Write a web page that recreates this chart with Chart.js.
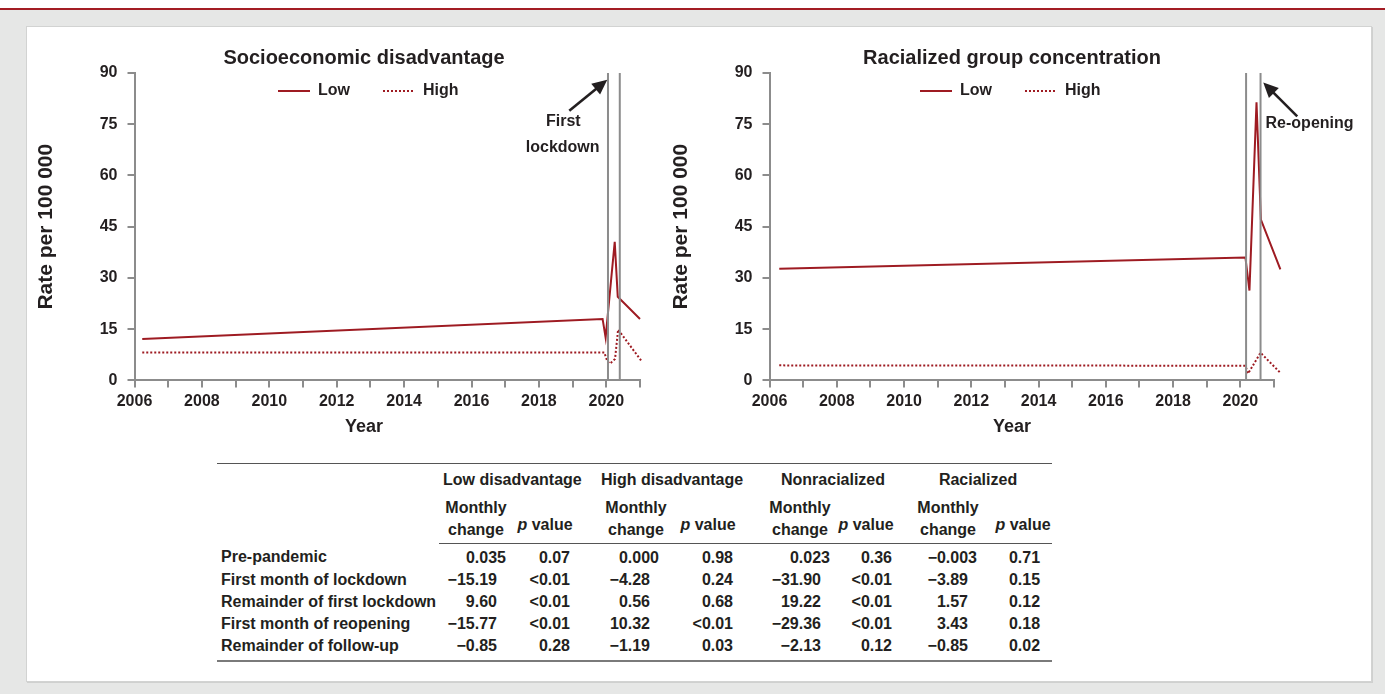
<!DOCTYPE html>
<html><head><meta charset="utf-8">
<script src="https://cdn.jsdelivr.net/npm/chart.js@4.4.1/dist/chart.umd.min.js"></script>
<style>
html,body{margin:0;padding:0;}
body{width:1385px;height:694px;overflow:hidden;background:#e6e7e6;position:relative;font-family:"Liberation Sans",Arial,sans-serif;color:#231f20;}
#topstrip{position:absolute;left:0;top:0;width:1385px;height:8px;background:#fff;}
#redline{position:absolute;left:0;top:8px;width:1385px;height:2px;background:#a31d24;}
#panel{position:absolute;left:26px;top:26px;width:1344px;height:654px;background:#fff;border:1px solid #d2d3d2;box-shadow:1px 1px 0 #cfd0cf;}
canvas{position:absolute;}
#tbl{position:absolute;left:217px;top:463px;width:835px;border-collapse:collapse;table-layout:fixed;font:bold 16px "Liberation Sans",Arial,sans-serif;color:#231f20;border-top:1.5px solid #555;}
#tbl td{padding:0;line-height:22px;white-space:nowrap;}
#tbl .grp td{height:31px;vertical-align:middle;text-align:center;}
#tbl .sub td{vertical-align:bottom;text-align:center;}
#tbl .sub td.mc{height:46px;padding-bottom:2px;}
#tbl .sub td.pv{height:41px;padding-bottom:7px;}
#tbl .sub td.ln{border-bottom:1.5px solid #555;}
#tbl .row td{height:22px;text-align:right;}
#tbl .row.first td{padding-top:2.5px;}
#tbl .row td.lab{text-align:left;padding-left:4px;}
#tbl .row.last td{padding-bottom:3px;border-bottom:2px solid #7a7a7a;}
.sh{position:relative;display:inline-block;}
</style></head>
<body>
<div id="topstrip"></div><div id="redline"></div>
<div id="panel"></div>
<canvas id="c1" width="688" height="402" style="left:20px;top:40px;width:688px;height:402px"></canvas>
<canvas id="c2" width="714" height="402" style="left:655px;top:40px;width:714px;height:402px"></canvas>
<table id="tbl"><colgroup></colgroup><tbody id="tb"></tbody></table>
<script>
// ---------- data ----------
const axisYears = [2006,2007,2008,2009,2010,2011,2012,2013,2014,2015,2016,2017,2018,2019,2020,2021];
const labelledYears = [2006,2008,2010,2012,2014,2016,2018,2020];
const rateTicks = [0,15,30,45,60,75,90];

const sesLowYears  = [2006.23, 2019.89, 2019.98, 2020.25, 2020.34, 2021.00];
const sesLowRates  = [12.1, 18.0, 12.5, 40.6, 24.5, 18.0];
const sesHighYears = [2006.23, 2019.94, 2020.03, 2020.11, 2020.26, 2020.35, 2021.05];
const sesHighRates = [8.2, 8.2, 5.6, 4.9, 6.3, 14.9, 5.6];
const sesEventYears = [2020.05, 2020.40];

const racLowYears  = [2006.29, 2020.15, 2020.27, 2020.48, 2020.61, 2021.19];
const racLowRates  = [32.7, 36.0, 26.3, 81.4, 47.1, 32.5];
const racHighYears = [2006.29, 2020.15, 2020.23, 2020.60, 2021.19];
const racHighRates = [4.4, 4.3, 2.0, 8.1, 2.2];
const racEventYears = [2020.17, 2020.60];

const seriesNames = ['Low','High'];
const chartTitles = ['Socioeconomic disadvantage','Racialized group concentration'];

const tableGroups = ['Low disadvantage','High disadvantage','Nonracialized','Racialized'];
const periodLabels = ['Pre-pandemic','First month of lockdown','Remainder of first lockdown','First month of reopening','Remainder of follow-up'];
const lowDisChange  = ['0.035','\u221215.19','9.60','\u221215.77','\u22120.85'];
const lowDisP       = ['0.07','<0.01','<0.01','<0.01','0.28'];
const highDisChange = ['0.000','\u22124.28','0.56','10.32','\u22121.19'];
const highDisP      = ['0.98','0.24','0.68','<0.01','0.03'];
const nonRacChange  = ['0.023','\u221231.90','19.22','\u221229.36','\u22122.13'];
const nonRacP       = ['0.36','<0.01','<0.01','<0.01','0.12'];
const racChange     = ['\u22120.003','\u22123.89','1.57','3.43','\u22120.85'];
const racP          = ['0.71','0.15','0.12','0.18','0.02'];

// ---------- style ----------
const FONT = '"Liberation Sans", Arial, sans-serif';
const RED = '#9e1b22', AX = '#8c8c8c', TXT = '#231f20';
Chart.defaults.font.family = FONT;
Chart.defaults.color = TXT;

const pts = (xs, ys) => xs.map((x, i) => ({x, y: ys[i]}));

// places the library legend as one row inside the plot area
const legendShift = {
  id: 'legendShift',
  afterLayout(chart, args, opts) {
    const lg = chart.legend; if (!lg) return;
    lg.update(chart.chartArea.width, 30, {left: 0, top: 0, right: 0, bottom: 0});
    const pad = lg.options.labels.padding;
    lg.left = opts.x - pad; lg.right = lg.left + 400;
    lg.top = opts.y - pad; lg.bottom = lg.top + 60;
  }
};

const arrowNote = {
  id: 'arrowNote',
  afterDraw(chart, args, o) {
    const ctx = chart.ctx, xs = chart.scales.x, ys = chart.scales.y;
    const tipX = xs.getPixelForValue(o.event) + o.tip[0];
    const tipY = ys.getPixelForValue(90) + o.tip[1];
    const tailX = tipX + o.tail[0], tailY = tipY + o.tail[1];
    const dx = tipX - tailX, dy = tipY - tailY, L = Math.hypot(dx, dy);
    const ux = dx / L, uy = dy / L, px = -uy, py = ux;
    const hl = 15, hw = 7;
    ctx.save();
    ctx.strokeStyle = TXT; ctx.fillStyle = TXT; ctx.lineWidth = 2.6;
    ctx.beginPath(); ctx.moveTo(tailX, tailY); ctx.lineTo(tipX - ux * (hl - 2), tipY - uy * (hl - 2)); ctx.stroke();
    ctx.beginPath();
    ctx.moveTo(tipX, tipY);
    ctx.lineTo(tipX - ux * hl + px * hw, tipY - uy * hl + py * hw);
    ctx.lineTo(tipX - ux * hl - px * hw, tipY - uy * hl - py * hw);
    ctx.closePath(); ctx.fill();
    ctx.font = 'bold 16px ' + FONT; ctx.textAlign = 'center'; ctx.textBaseline = 'middle';
    o.text.forEach(t => ctx.fillText(t.s, tipX + t.d[0], tipY + t.d[1]));
    ctx.restore();
  }
};

function makeChart(id, cfg) {
  const lineDs = (label, xs, ys, dash) => ({
    label, data: pts(xs, ys), borderColor: RED, backgroundColor: RED,
    borderWidth: 2, borderDash: dash, pointRadius: 0, tension: 0, clip: false
  });
  const eventDs = cfg.events.map(e => ({
    label: '', data: pts([e, e], [rateTicks[0], rateTicks[rateTicks.length - 1]]),
    borderColor: AX, borderWidth: 2, pointRadius: 0
  }));
  return new Chart(document.getElementById(id), {
    type: 'line',
    data: { datasets: [...eventDs,
      lineDs(seriesNames[0], cfg.lowX, cfg.lowY, []),
      lineDs(seriesNames[1], cfg.highX, cfg.highY, [2, 2])] },
    plugins: [legendShift, arrowNote],
    options: {
      responsive: false, animation: false, events: [],
      layout: { padding: 0 },
      plugins: {
        title: { display: true, text: cfg.title, color: TXT, font: { size: 20, weight: 'bold' }, padding: { top: 6, bottom: 3 } },
        subtitle: { display: true, position: 'bottom', text: 'Year', color: TXT, font: { size: 18, weight: 'bold' }, padding: { top: 0, bottom: 4 } },
        legend: {
          position: 'chartArea', align: 'start',
          labels: {
            usePointStyle: true, pointStyle: 'line', pointStyleWidth: 32, color: TXT,
            font: { size: 16, weight: 'bold' }, padding: 33,
            generateLabels: ch => Chart.defaults.plugins.legend.labels.generateLabels(ch).map(it => {
              const ds = ch.data.datasets[it.datasetIndex];
              return Object.assign(it, { lineDash: ds.borderDash, lineWidth: ds.borderWidth, strokeStyle: ds.borderColor });
            }),
            filter: it => it.text !== ''
          }
        },
        tooltip: { enabled: false },
        legendShift: cfg.legend,
        arrowNote: cfg.note
      },
      scales: {
        x: {
          type: 'linear', min: axisYears[0], max: axisYears[axisYears.length - 1],
          afterFit: s => { s.height = 36; },
          afterBuildTicks: s => { s.ticks = axisYears.map(v => ({ value: v })); },
          border: { color: AX, width: 2 },
          grid: { drawOnChartArea: false, drawTicks: true, tickLength: 7, color: AX, lineWidth: 2 },
          ticks: { autoSkip: false, maxRotation: 0, padding: 5, color: TXT, font: { size: 16, weight: 'bold' },
            callback: v => labelledYears.includes(v) ? String(v) : '' }
        },
        y: {
          min: rateTicks[0], max: rateTicks[rateTicks.length - 1],
          afterFit: s => { s.width = 114.5; },
          afterBuildTicks: s => { s.ticks = rateTicks.map(v => ({ value: v })); },
          border: { color: AX, width: 2 },
          grid: { drawOnChartArea: false, drawTicks: true, tickLength: 7, color: AX, lineWidth: 2 },
          ticks: { padding: 10, color: TXT, font: { size: 16, weight: 'bold' }, callback: v => String(v) },
          title: { display: true, text: 'Rate per 100 000', color: TXT, font: { size: 21, weight: 'bold' }, padding: { top: 14, bottom: 0 } }
        },
        y2: {
          position: 'right', afterFit: s => { s.width = cfg.rightGap; },
          grid: { display: false }, border: { display: false }, ticks: { display: false }
        }
      }
    }
  });
}

makeChart('c1', {
  title: chartTitles[0], events: sesEventYears,
  lowX: sesLowYears, lowY: sesLowRates, highX: sesHighYears, highY: sesHighRates,
  rightGap: 68, legend: { x: 258, y: 43 },
  note: { event: sesEventYears[0], tip: [-0.7, 6.7], tail: [-38, 31],
    text: [{ s: 'First', d: [-44, 41.7] }, { s: 'lockdown', d: [-44.6, 68.3] }] }
});
makeChart('c2', {
  title: chartTitles[1], events: racEventYears,
  lowX: racLowYears, lowY: racLowRates, highX: racHighYears, highY: racHighRates,
  rightGap: 95, legend: { x: 265, y: 43 },
  note: { event: racEventYears[1], tip: [2.7, 9.4], tail: [34, 34],
    text: [{ s: 'Re-opening', d: [46.3, 41.3] }] }
});

// ---------- table ----------
const colWidths = [222, 70, 66, 87, 78, 93, 64, 83, 72];
const cg = document.querySelector('#tbl colgroup');
colWidths.forEach(w => { const c = document.createElement('col'); c.style.width = w + 'px'; cg.appendChild(c); });
const tb = document.getElementById('tb');
const groupShift = [4, 14.5, 14.5, 3.5];
const mcShift = [2, 17.5, 13.5, 9.5];
const pvShift = [3, 7, 1, 7];
const pPad = [5, 7, 5, 12];
let h = '<tr class="grp"><td></td>';
tableGroups.forEach((g, i) => { h += `<td colspan="2"><span class="sh" style="left:${groupShift[i]}px">${g}</span></td>`; });
h += '</tr><tr class="sub"><td></td>';
tableGroups.forEach((g, i) => {
  h += `<td class="mc ln"><span class="sh" style="left:${mcShift[i]}px">Monthly<br>change</span></td>`;
  h += `<td class="pv ln"><span class="sh" style="left:${pvShift[i]}px"><i>p</i> value</span></td>`;
});
h += '</tr>';
const cols = [[lowDisChange, lowDisP], [highDisChange, highDisP], [nonRacChange, nonRacP], [racChange, racP]];
periodLabels.forEach((lab, r) => {
  const cls = r === 0 ? ' first' : (r === periodLabels.length - 1 ? ' last' : '');
  h += `<tr class="row${cls}"><td class="lab">${lab}</td>`;
  cols.forEach(([chg, pv], g) => {
    const s = chg[r];
    const dec = s.split('.')[1].length;
    const pr = dec === 3 ? 3 : 12;
    h += `<td style="padding-right:${pr}px">${s}</td>`;
    h += `<td style="padding-right:${pPad[g]}px">${pv[r].replace('<', '&lt;')}</td>`;
  });
  h += '</tr>';
});
tb.innerHTML = h;
</script>
</body></html>
